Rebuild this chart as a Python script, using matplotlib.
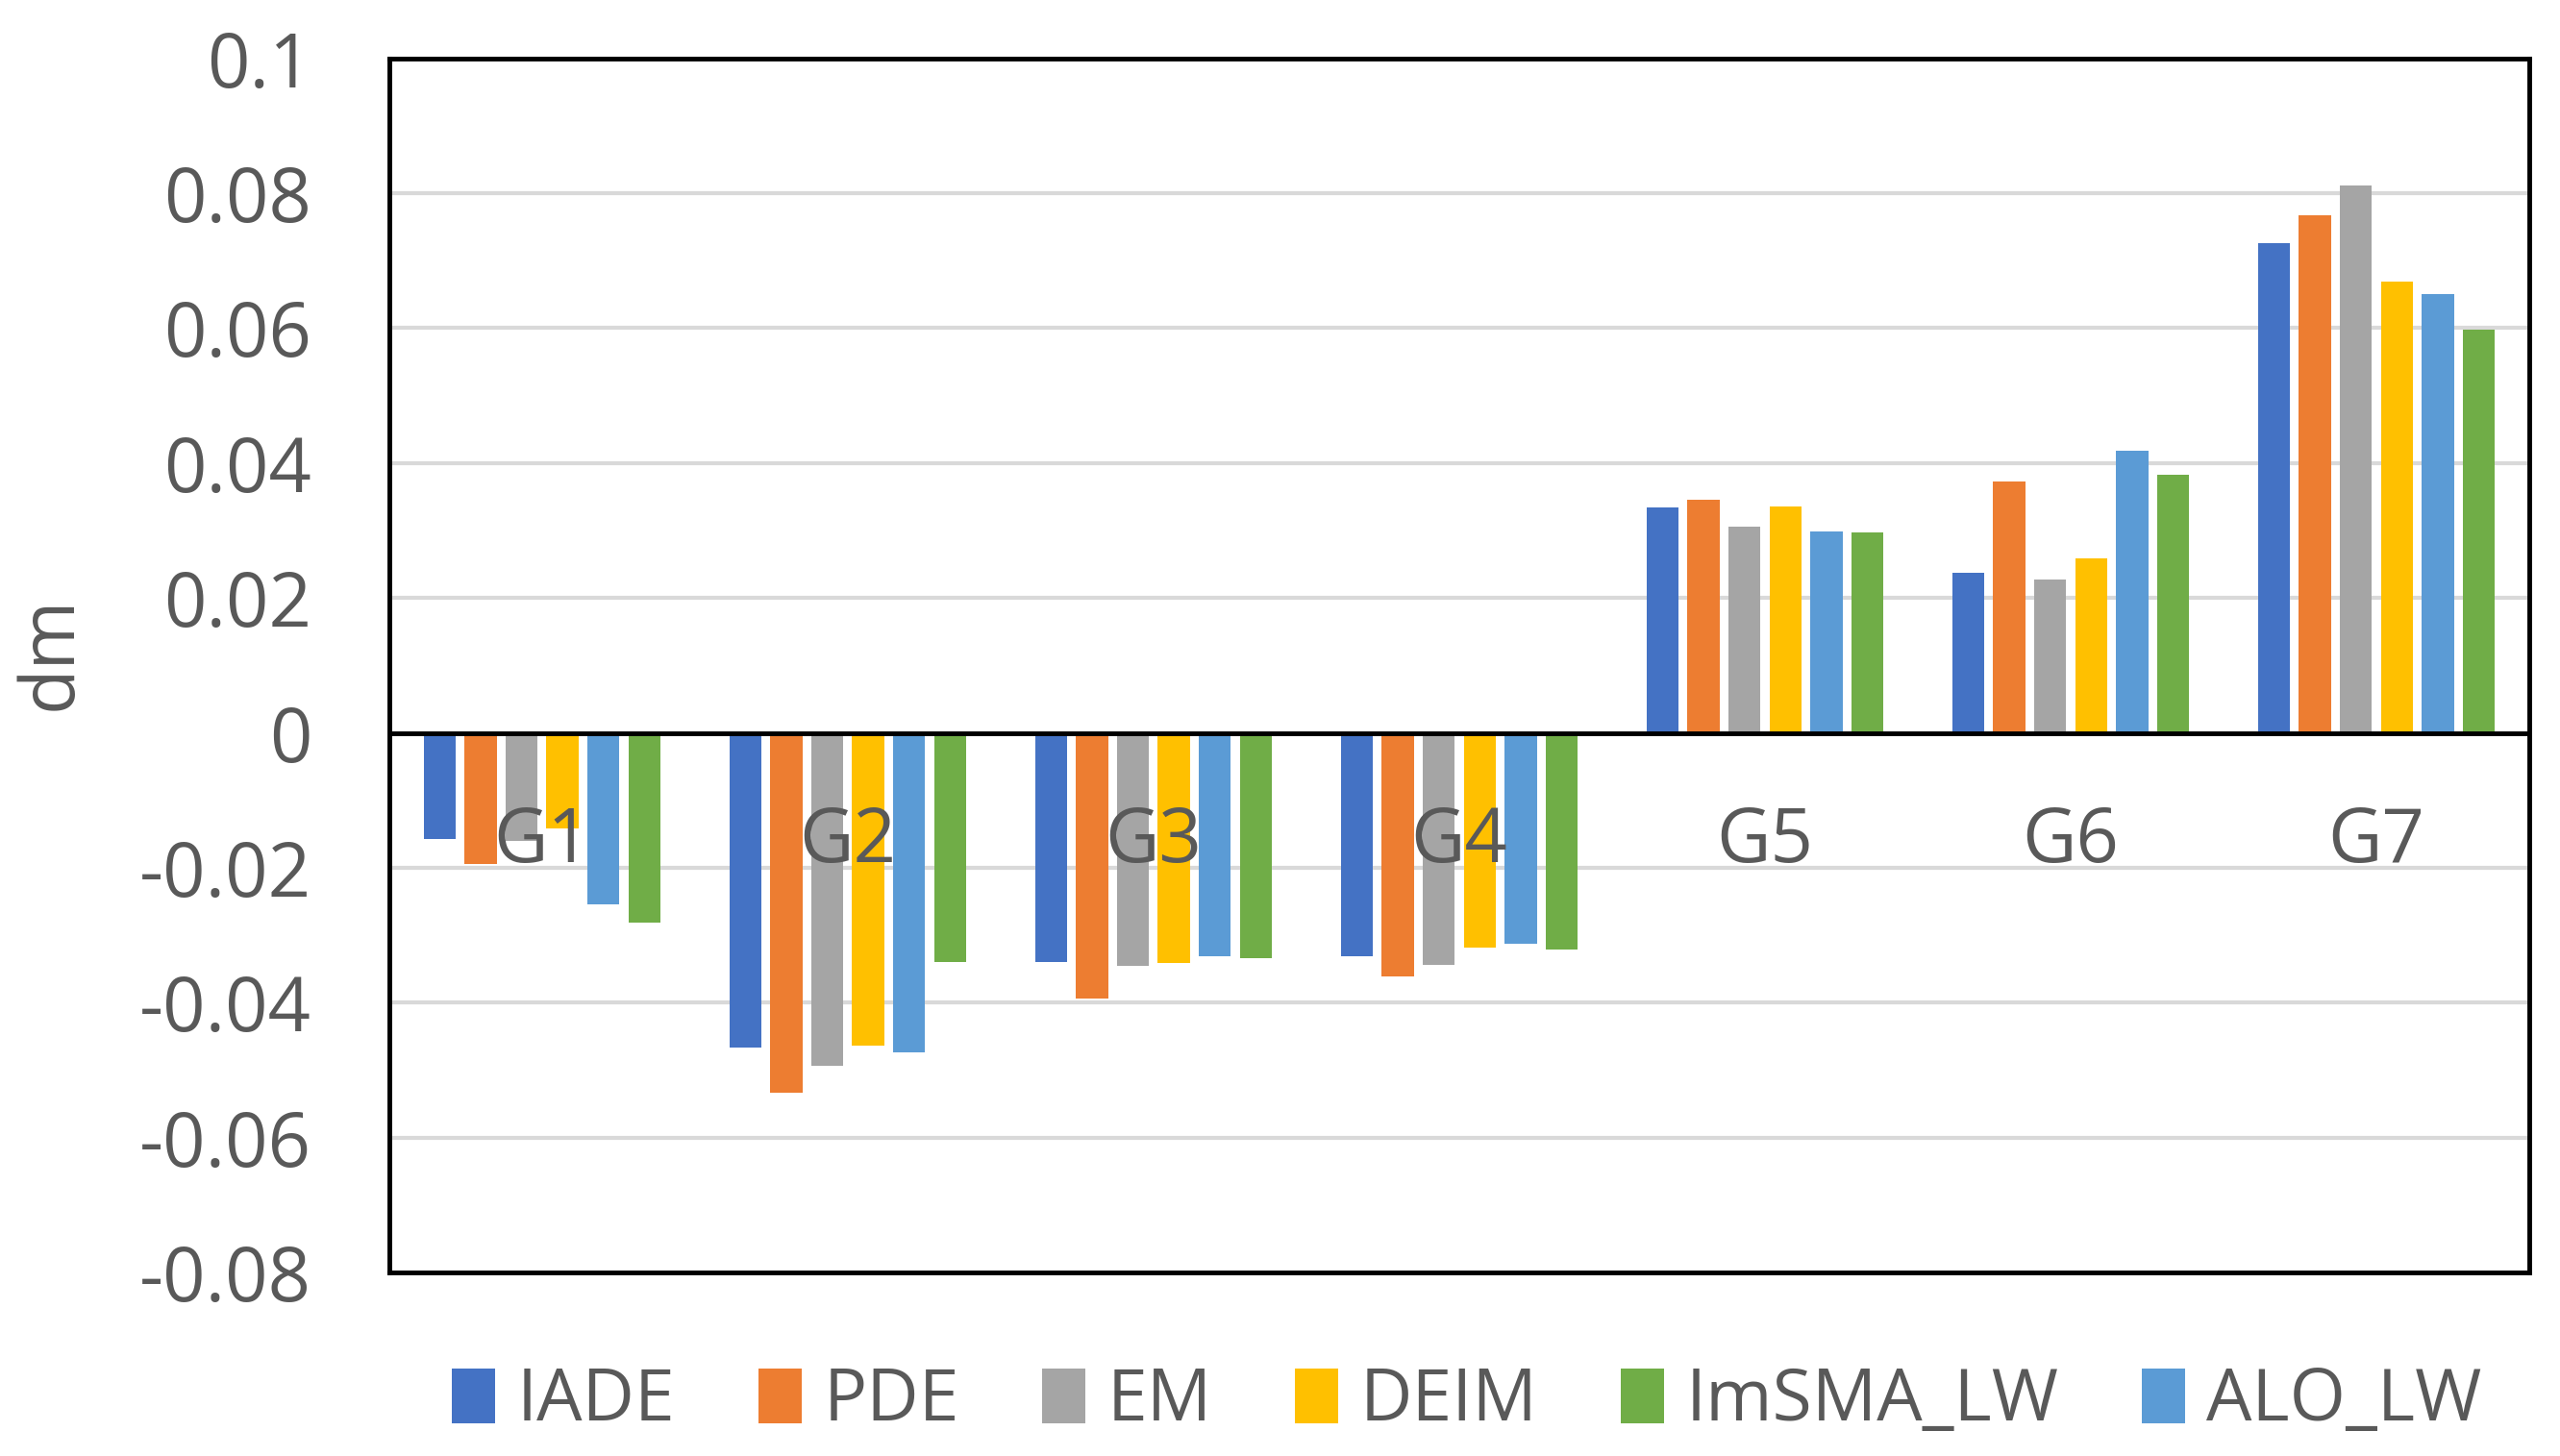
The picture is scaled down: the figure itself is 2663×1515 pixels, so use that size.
import numpy as np
import matplotlib.pyplot as plt
from matplotlib.transforms import blended_transform_factory

plt.rcParams['font.family'] = ['Open Sans', 'DejaVu Sans']

groups = ["G1", "G2", "G3", "G4", "G5", "G6", "G7"]
iade = [-0.0157, -0.0466, -0.0340, -0.0331, 0.0334, 0.0237, 0.0726]
pde = [-0.0194, -0.0534, -0.0394, -0.0361, 0.0346, 0.0372, 0.0767]
em = [-0.0160, -0.0493, -0.0345, -0.0344, 0.0306, 0.0227, 0.0811]
deim = [-0.0141, -0.0464, -0.0341, -0.0318, 0.0336, 0.0258, 0.0669]
alo_lw = [-0.0254, -0.0474, -0.0331, -0.0312, 0.0298, 0.0418, 0.0651]
imsma_lw = [-0.0281, -0.0340, -0.0334, -0.0321, 0.0297, 0.0383, 0.0598]

# drawing order in the bars; the legend lists them differently
series = [("IADE", iade, "#4472C4"),
          ("PDE", pde, "#ED7D31"),
          ("EM", em, "#A5A5A5"),
          ("DEIM", deim, "#FFC000"),
          ("ALO_LW", alo_lw, "#5B9BD5"),
          ("ImSMA_LW", imsma_lw, "#70AD47")]
legend_order = ["IADE", "PDE", "EM", "DEIM", "ImSMA_LW", "ALO_LW"]

fig = plt.figure(figsize=(26.63, 15.15), dpi=100)
ax = fig.add_axes([0.152, 0.126, 0.836, 0.834])

x = np.arange(len(groups))
step = 0.134
width = 0.105
handles = {}
for k, (name, vals, col) in enumerate(series):
    off = (k - 2.5) * step
    b = ax.bar(x + off, vals, width=width, color=col, label=name, zorder=3)
    handles[name] = b

ax.set_xlim(-0.5, len(groups) - 0.5)
ax.set_ylim(-0.08, 0.1)
yt = np.round(np.arange(-0.08, 0.1001, 0.02), 2)
ax.set_yticks(yt)
ax.set_yticklabels([f"{v:g}" for v in yt], fontsize=56, color="#595959")
ax.set_xticks([])
ax.tick_params(axis="y", length=0, pad=58)
ax.yaxis.grid(True, color="#d9d9d9", linewidth=3, zorder=0)
ax.set_axisbelow(True)
for sp in ax.spines.values():
    sp.set_linewidth(3.5)
    sp.set_color("black")
ax.axhline(0, color="black", linewidth=3.5, zorder=4)

trans = blended_transform_factory(ax.transData, ax.transData)
for i, g in enumerate(groups):
    ax.text(i, -0.0162, g, ha="center", va="center", fontsize=56,
            color="#595959", zorder=5, transform=trans)

ax.set_ylabel("dm", fontsize=56, color="#595959")
ax.yaxis.set_label_coords(-0.14, 0.51)

leg = fig.legend([handles[n] for n in legend_order], legend_order,
                 loc="center", bbox_to_anchor=(0.573, 0.037), ncol=6,
                 frameon=False, fontsize=54, handlelength=0.6,
                 handleheight=0.8, handletextpad=0.3, columnspacing=1.15)
for t in leg.get_texts():
    t.set_color("#595959")

fig.savefig("out.png", dpi=100)
